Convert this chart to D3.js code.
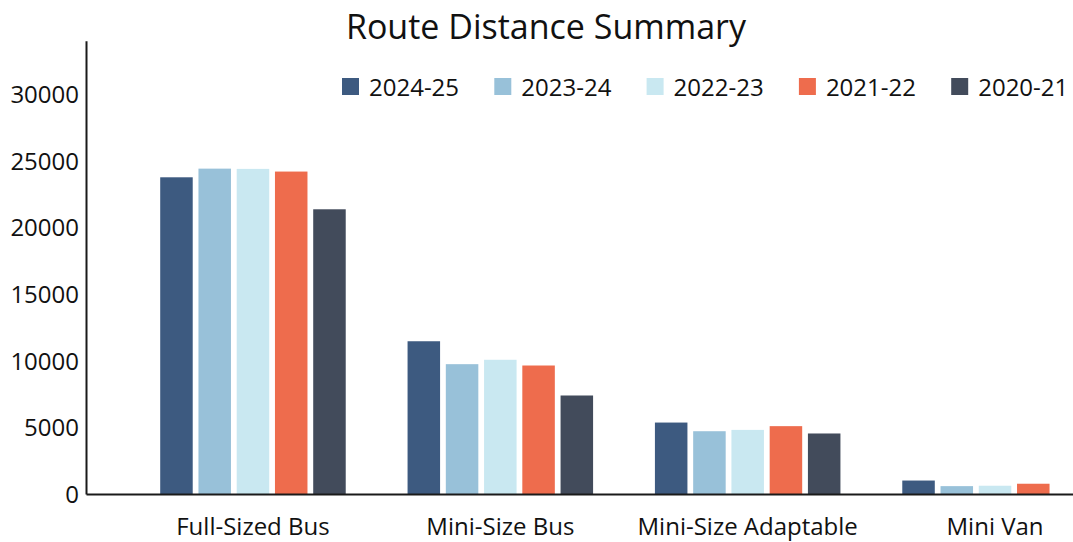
<!DOCTYPE html>
<meta charset="utf-8">
<style>
    body {
        margin: 0;
        background: #fff;
    }

    text {
        font-family: "Open Sans", "Noto Sans", sans-serif;
        fill: #111;
    }

    .title {
        font-size: 34px;
    }

    .axis text,
    .legend text {
        font-size: 24px;
    }

    .axis path {
        stroke: #1a1a1a;
        stroke-width: 2px;
    }
</style>
<svg id="chart" width="1073" height="542"></svg>
<script src="https://cdn.jsdelivr.net/npm/d3@7"></script>
<script>
    // values
    var categories = ["Full-Sized Bus", "Mini-Size Bus", "Mini-Size Adaptable", "Mini Van"];
    var years = ["2024-25", "2023-24", "2022-23", "2021-22", "2020-21"];
    var v2024_25 = [23760, 11460, 5360, 1010];
    var v2023_24 = [24410, 9740, 4710, 590];
    var v2022_23 = [24390, 10070, 4810, 620];
    var v2021_22 = [24190, 9640, 5090, 770];
    var v2020_21 = [21360, 7390, 4540, null];
    var yTicks = [0, 5000, 10000, 15000, 20000, 25000, 30000];
    var colors = ["#3d5a80", "#98c1d9", "#c9e8f1", "#ee6c4d", "#424b5b"];

    var series = [v2024_25, v2023_24, v2022_23, v2021_22, v2020_21];
    var data = categories.map(function (c, i) {
        return {
            cat: c,
            values: years.map(function (yr, j) { return { year: yr, value: series[j][i] }; })
        };
    });

    var svg = d3.select("#chart");

    var x0 = d3.scaleBand().domain(categories).range([86, 1162]).paddingInner(0.25).paddingOuter(0.3),
        x1 = d3.scaleBand().domain(years).range([0, x0.bandwidth()]).paddingInner(0.15),
        y = d3.scaleLinear().domain([0, 34000]).range([494, 40.8]),
        z = d3.scaleOrdinal().domain(years).range(colors);

    svg.append("text")
        .attr("class", "title")
        .attr("x", 546)
        .attr("y", 39)
        .attr("text-anchor", "middle")
        .text("Route Distance Summary");

    // bars
    var group = svg.selectAll(".group")
        .data(data)
        .enter().append("g")
        .attr("class", "group")
        .attr("transform", function (d) { return "translate(" + x0(d.cat) + ",0)"; });

    group.selectAll("rect")
        .data(function (d) { return d.values.filter(function (v) { return v.value != null; }); })
        .enter().append("rect")
        .attr("x", function (d) { return x1(d.year); })
        .attr("y", function (d) { return y(d.value); })
        .attr("width", x1.bandwidth())
        .attr("height", function (d) { return y(0) - y(d.value); })
        .attr("fill", function (d) { return z(d.year); });

    // axes
    var yAxis = svg.append("g")
        .attr("class", "axis axis--y")
        .attr("transform", "translate(86,0)")
        .call(d3.axisLeft(y).tickValues(yTicks).tickFormat(d3.format("d")).tickSize(0).tickPadding(7));
    yAxis.selectAll("text").attr("dy", "0.35em");

    var xAxis = svg.append("g")
        .attr("class", "axis axis--x")
        .attr("transform", "translate(0," + y(0) + ")")
        .call(d3.axisBottom(x0).tickSize(0).tickSizeOuter(0));
    xAxis.selectAll("text").attr("y", 41).attr("dy", 0);

    // legend
    var lx = d3.scaleBand().domain(years).range([342, 1103.5]);

    var legend = svg.selectAll(".legend")
        .data(years)
        .enter().append("g")
        .attr("class", "legend")
        .attr("transform", function (d) { return "translate(" + lx(d) + ",78)"; });

    legend.append("rect")
        .attr("width", 17)
        .attr("height", 17)
        .attr("fill", function (d) { return z(d); });

    legend.append("text")
        .attr("x", 27)
        .attr("y", 18)
        .text(function (d) { return d; });
</script>
